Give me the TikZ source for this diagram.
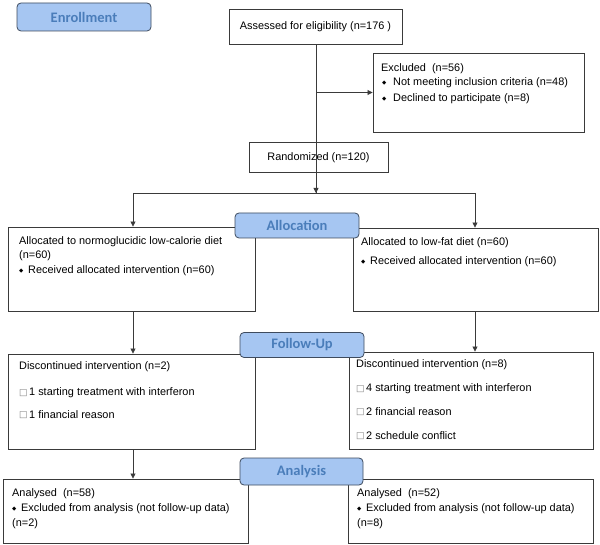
\documentclass[tikz,border=0pt]{standalone}
\usepackage{fontspec}
\setmainfont{Liberation Sans}
\newfontfamily\carl{Carlito}
\newfontfamily\djv{DejaVu Sans}
\usetikzlibrary{arrows.meta}
\definecolor{labfill}{HTML}{A6C6F2}
\definecolor{labdraw}{HTML}{3E4B5E}
\definecolor{labtext}{HTML}{4A7DBA}
\definecolor{boxline}{HTML}{3A3A3A}
\newcommand{\dia}{{\djv\fontsize{5.5}{5.5}\selectfont ◆}}
\newcommand{\sqr}{{\djv\fontsize{9}{9}\selectfont\color{gray}□}}
\tikzset{
  box/.style={draw=boxline, line width=0.9pt, fill=white, inner sep=0pt},
  lab/.style={draw=labdraw, line width=0.8pt, fill=labfill, rounded corners=4pt,
    font=\carl\bfseries\fontsize{14.5}{15}\selectfont, text=labtext, inner sep=0pt},
  txt/.style={anchor=west, inner sep=0pt, font=\fontsize{10.9}{12}\selectfont},
  arr/.style={draw=boxline, line width=0.8pt, -{Triangle[length=5pt,width=5pt]}},
  ln/.style={draw=boxline, line width=0.8pt}
}
\begin{document}
\begin{tikzpicture}[x=1pt,y=-1pt]
\useasboundingbox (0,0) rectangle (600,545);
% boxes
\node[box, minimum width=173pt, minimum height=35pt, font=\fontsize{10.9}{12}\selectfont] (assess) at (315.5,26.5) {Assessed for eligibility (n=176 )};
\node[box, minimum width=211pt, minimum height=79pt] (excl) at (478.5,92.5) {};
\node[box, minimum width=139pt, minimum height=30pt, font=\fontsize{10.9}{12}\selectfont] (rand) at (318.5,157.5) {Randomized (n=120)};
\node[box, minimum width=247pt, minimum height=84pt] (allocL) at (132,269) {};
\node[box, minimum width=245pt, minimum height=83pt] (allocR) at (475.5,269.5) {};
\node[box, minimum width=247pt, minimum height=95pt] (followL) at (132,401.5) {};
\node[box, minimum width=244pt, minimum height=97pt] (followR) at (471.5,400.5) {};
\node[box, minimum width=245pt, minimum height=64pt] (anaL) at (125.5,511) {};
\node[box, minimum width=245pt, minimum height=64pt] (anaR) at (470.5,511) {};
% connectors
\coordinate (split) at (316,193);
\coordinate (splitL) at (133,193);
\coordinate (splitR) at (475,193);
\draw[ln] (assess.south -| split) -- (split);
\draw[arr] (split |- excl.west) -- (excl.west);
\draw[ln] (splitL) -- (splitR);
\draw[arr] (rand.south -| split) -- (split);
\draw[arr] (splitL) -- (splitL |- allocL.north);
\draw[arr] (splitR) -- (splitR |- allocR.north);
\draw[arr] (allocL.south -| splitL) -- (splitL |- followL.north);
\draw[arr] (allocR.south -| splitR) -- (splitR |- followR.north);
\draw[arr] (followL.south -| splitL) -- (splitL |- anaL.north);
% texts: excluded
\node[txt] (ex0) at (381,69) {Excluded\ \ (n=56)};
\node[txt] (ex1b) at (382,83) {\dia};
\node[txt] (ex1) at (393,83) {Not meeting inclusion criteria (n=48)};
\node[txt] (ex2b) at (382,99) {\dia};
\node[txt] (ex2) at (393,99) {Declined to participate (n=8)};
% allocation left
\node[txt] (al0) at (19,242) {Allocated to normoglucidic low-calorie diet};
\node[txt] (al1) at (19,256) {(n=60)};
\node[txt] (al2b) at (19,271) {\dia};
\node[txt] (al2) at (28,271) {Received allocated intervention (n=60)};
% allocation right
\node[txt] (ar0) at (361,243) {Allocated to low-fat diet (n=60)};
\node[txt] (ar1b) at (361,262) {\dia};
\node[txt] (ar1) at (370,262) {Received allocated intervention (n=60)};
% follow left
\node[txt] (fl0) at (19,367) {Discontinued intervention (n=2)};
\node[txt] (fl1b) at (19,393) {\sqr};
\node[txt] (fl1) at (29,393) {1 starting treatment with interferon};
\node[txt] (fl2b) at (19,415) {\sqr};
\node[txt] (fl2) at (29,415) {1 financial reason};
% follow right
\node[txt] (fr0) at (356,365) {Discontinued intervention (n=8)};
\node[txt] (fr1b) at (356,389) {\sqr};
\node[txt] (fr1) at (366,389) {4 starting treatment with interferon};
\node[txt] (fr2b) at (356,412) {\sqr};
\node[txt] (fr2) at (366,412) {2 financial reason};
\node[txt] (fr3b) at (356,436) {\sqr};
\node[txt] (fr3) at (366,436) {2 schedule conflict};
% analysis left
\node[txt] (nl0) at (12,494) {Analysed\ \ (n=58)};
\node[txt] (nl1b) at (12,509) {\dia};
\node[txt] (nl1) at (21,509) {Excluded from analysis (not follow-up data)};
\node[txt] (nl2) at (12,524) {(n=2)};
% analysis right
\node[txt] (nr0) at (357,494) {Analysed\ \ (n=52)};
\node[txt] (nr1b) at (357,509) {\dia};
\node[txt] (nr1) at (366,509) {Excluded from analysis (not follow-up data)};
\node[txt] (nr2) at (357,524) {(n=8)};
% stage labels
\node[lab, minimum width=134pt, minimum height=28pt] (enr) at (84,17) {Enrollment};
\node[lab, minimum width=124pt, minimum height=25pt] (alc) at (297,225.5) {Allocation};
\node[lab, minimum width=124pt, minimum height=25pt] (fup) at (302,345) {Follow-Up};
\node[lab, minimum width=123pt, minimum height=27pt] (ana) at (301.5,471.5) {Analysis};
\end{tikzpicture}
\end{document}
